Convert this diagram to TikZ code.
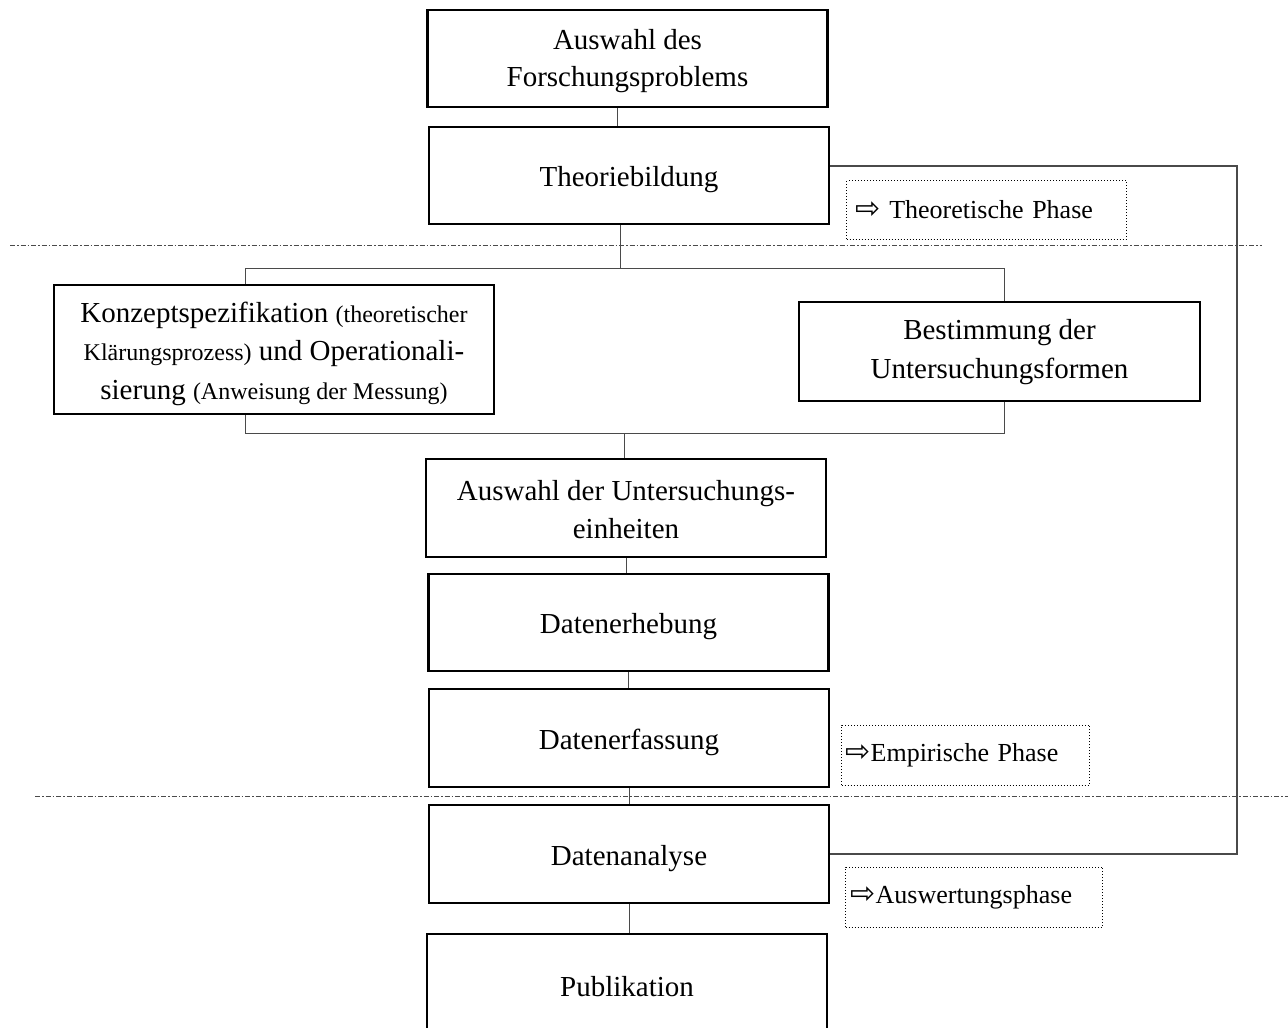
\documentclass[tikz,border=0pt]{standalone}
\usepackage{fontspec}
\setmainfont{Liberation Serif}
\newfontfamily\arrowfont{DejaVu Sans}
\usetikzlibrary{calc}
\definecolor{ink}{HTML}{000000}
\definecolor{lineC}{HTML}{4A4A4A}
\newcommand{\phasearrow}{{\arrowfont\fontsize{15}{15}\selectfont\symbol{"21E8}}}
\newcommand{\nb}[1]{{\fontsize{12}{19.25}\selectfont #1}}
\newcommand{\topstrut}[1][14.5pt]{\rule{0pt}{#1}}
\tikzset{
  stage/.style={draw=ink,line width=1.25pt,minimum width=200pt,minimum height=48.5pt,
    align=center,inner sep=2pt,font=\fontsize{14.5}{18.5}\selectfont},
  phase/.style={draw=ink,densely dotted,line width=0.5pt,minimum height=29pt,
    align=left,anchor=west,font=\fontsize{13}{16}\selectfont},
  conn/.style={draw=lineC,line width=0.5pt},
  back/.style={draw=lineC,line width=0.8pt},
  sepline/.style={lineC,line width=0.5pt,dash pattern=on 2.5pt off 1pt on 0.75pt off 1pt},
}

\begin{document}
\begin{tikzpicture}[x=0.5pt,y=-0.5pt]
\useasboundingbox (0,0) rectangle (1288,1027);

% ---------- phase separators ----------
\draw[sepline] (10,245) -- (1262,245);
\draw[sepline] (35,796) -- (1288,796);

% ---------- stages ----------
\node[stage] (prob) at (627.5,58.5) {\topstrut[12.5pt]Auswahl des\\Forschungsproblems};
\node[stage] (theo) at (629,175.5) {\topstrut Theoriebildung};
\node[stage,minimum width=220pt,minimum height=64.5pt,font=\fontsize{14.5}{19.25}\selectfont] (konz) at (274,349.5)
  {\topstrut Konzeptspezifikation \nb{(theoretischer}\\\nb{Kl\"arungsprozess)} und Operationali-\\sierung \nb{(Anweisung der Messung)}};
\node[stage,minimum width=200.5pt,minimum height=49.5pt,font=\fontsize{14.5}{19.5}\selectfont] (best) at (999.5,351.5)
  {\topstrut[11pt]Bestimmung der\\Untersuchungsformen};
\node[stage,minimum height=49pt,font=\fontsize{14.5}{19}\selectfont] (einh) at (626,508)
  {\topstrut[11.5pt]Auswahl der Untersuchungs-\\einheiten};
\node[stage] (erheb) at (628.5,622.5) {\topstrut Datenerhebung};
\node[stage,minimum height=49pt] (erfass) at (629,738) {\topstrut Datenerfassung};
\node[stage,minimum height=49pt] (analyse) at (629,854) {\topstrut Datenanalyse};
\node[stage] (publ) at (627,982.5) {\topstrut Publikation};

% ---------- phase labels ----------
\node[phase,inner xsep=4.5pt,text width=131pt] (thph) at (846,210) {\phasearrow\ Theoretische Phase};
\node[phase,inner xsep=2pt,text width=120pt,minimum height=30pt] (emph) at (841,755) {\phasearrow Empirische Phase};
\node[phase,inner xsep=2.5pt,text width=123.5pt,minimum height=30pt] (auph) at (845,897) {\phasearrow Auswertungsphase};

% ---------- connectors ----------
\draw[conn] ([xshift=-5.25pt]prob.south) -- ([xshift=-5.25pt]prob.south |- theo.north);
\coordinate (split) at (620,268);
\coordinate (splitL) at (245,268);
\coordinate (splitR) at (1004,268);
\draw[conn] (theo.south -| split) -- (split);
\draw[conn] (konz.north -| splitL) -- (splitL) -- (splitR) -- (best.north -| splitR);
\coordinate (join) at (624,433);
\coordinate (joinL) at (245,433);
\coordinate (joinR) at (1004,433);
\draw[conn] (konz.south -| joinL) -- (joinL) -- (joinR) -- (best.south -| joinR);
\draw[conn] (join) -- (einh.north -| join);
\draw[conn] (einh.south) -- (einh.south |- erheb.north);
\draw[conn] (erheb.south) -- (erheb.south |- erfass.north);
\draw[conn] (erfass.south) -- (erfass.south |- analyse.north);
\draw[conn] (analyse.south) -- (analyse.south |- publ.north);

% ---------- feedback loop ----------
\coordinate (loop) at (1237,500);
\draw[back] ([yshift=4.75pt]theo.east) -| (loop) |- (analyse.east);

\end{tikzpicture}
\end{document}
